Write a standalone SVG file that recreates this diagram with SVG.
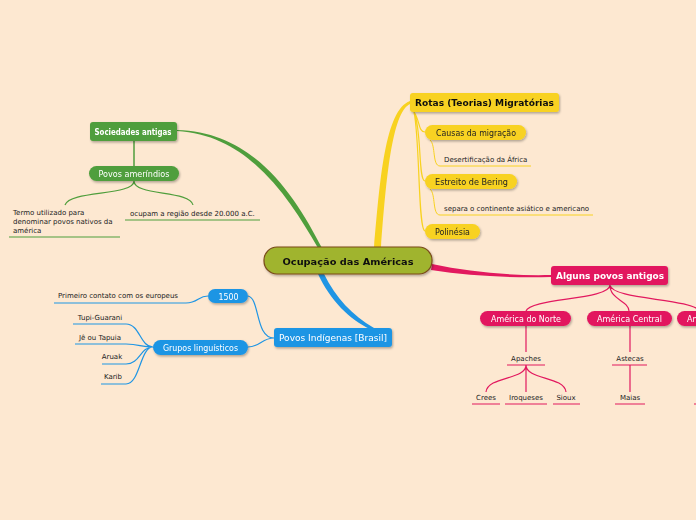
<svg xmlns="http://www.w3.org/2000/svg" width="696" height="520" viewBox="0 0 696 520">
<defs>
<filter id="sh" x="-10%" y="-20%" width="130%" height="160%"><feDropShadow dx="1" dy="1.5" stdDeviation="1" flood-color="#000" flood-opacity="0.3"/></filter>
<style>
text{font-family:"DejaVu Sans","Noto Sans",sans-serif}
.nt{font-size:8px;fill:#fff;text-anchor:middle}
.nd{font-size:8px;fill:#222;text-anchor:middle}
.ntb{font-size:9px;font-weight:bold;text-anchor:middle}
.lf{font-size:7px;fill:#222}
.lfm{font-size:7px;fill:#222;text-anchor:middle}
.g{stroke:#4f9e3c;fill:none}
.y{stroke:#f8d220;fill:none}
.p{stroke:#e2195f;fill:none}
.b{stroke:#1f95e4;fill:none}
</style>
</defs>
<rect width="696" height="520" fill="#fde8d1"/>
<g id="connectors">
<path d="M177 131 C250 135 290 200 318 248 L322 248 C295 196 255 132 177 130 Z" fill="#4f9e3c"/>
<path class="g" stroke-width="1.5" d="M134 141 V166"/>
<path class="g" stroke-width="1.2" d="M134 181 C134 196 70 190 65 205 M134 181 C134 196 190 190 193 205"/>
<path class="g" stroke-width="1.2" d="M9 237 H120 M125 220 H260"/>
<path d="M374 248 C380 180 385 110 410 101 L410 104 C392 112 386 180 381 248 Z" fill="#f8d220"/>
<path class="y" stroke-width="1.2" d="M414 112 C420 120 418 132 425 132 M414 112 C422 130 418 181 425 181 M414 112 C420 140 418 231 425 231"/>
<path class="y" stroke-width="1" d="M430 140 C436 145 432 166 440 166 H531 M430 189 C436 194 432 215 440 215 H593"/>
<path d="M432 264 C470 272 510 276 551 275 L551 277 C510 278 470 276 431 270 Z" fill="#e2195f"/>
<path class="p" stroke-width="1.2" d="M610 285 C610 300 530 298 526 311 M610 285 C610 300 628 300 629 311 M610 285 C612 300 690 298 700 311"/>
<path class="p" stroke-width="1.2" d="M526 326 V352 M507 365 H545 M526 365 C526 380 488 376 486 392 M526 365 V392 M526 365 C526 380 564 376 566 392 M472 404 H500 M505 404 H547 M553 404 H580"/>
<path class="p" stroke-width="1.2" d="M630 326 V352 M612 365 H647 M630 365 V392 M615 404 H645 M694 404 H696"/>
<path d="M318 274 C330 300 350 320 370 329 L374 328 C352 315 336 298 324 274 Z" fill="#1f95e4"/>
<path class="b" stroke-width="1.2" d="M274 338 C255 338 260 298 248 296 M274 338 C262 338 260 347 248 347"/>
<path class="b" stroke-width="1.2" d="M54 303 H186 C198 303 198 296 208 296"/>
<path class="b" stroke-width="1.2" d="M73 324 H126 C140 324 140 347 153 347 M75 344 H126 C140 344 140 347 153 347 M102 364 H126 C140 364 140 347 153 347 M101 384 H126 C140 384 140 347 153 347"/>
</g>
<g id="central" filter="url(#sh)"><rect x="264" y="247" width="168" height="27" rx="13" fill="#a0b42e" stroke="#7a4a1a" stroke-width="1.2"/><text x="348" y="265" class="ntb" font-size="10.5" fill="#111" textLength="131" lengthAdjust="spacingAndGlyphs">Ocupação das Américas</text></g>
<g id="sociedades" filter="url(#sh)"><rect x="90" y="122" width="87" height="19" rx="3" fill="#4f9e3c"/><text x="133" y="135" class="ntb" style="fill:#fff" font-size="8.5" textLength="77" lengthAdjust="spacingAndGlyphs">Sociedades antigas</text></g>
<g id="amerindios" filter="url(#sh)"><rect x="89" y="166" width="90" height="15" rx="7.5" fill="#4f9e3c"/><text x="134" y="177" class="nt" textLength="71" lengthAdjust="spacingAndGlyphs">Povos ameríndios</text></g>
<g id="termo"><text class="lf" x="13" y="215">Termo utilizado para</text><text class="lf" x="13" y="224">denominar povos nativos da</text><text class="lf" x="13" y="233">américa</text></g>
<g id="ocupam"><text class="lf" x="130" y="216">ocupam a região desde 20.000 a.C.</text></g>
<g id="rotas" filter="url(#sh)"><rect x="410" y="93" width="149" height="19" rx="3" fill="#f8d220"/><text x="484.5" y="106" class="ntb" fill="#111" textLength="139" lengthAdjust="spacingAndGlyphs">Rotas (Teorias) Migratórias</text></g>
<g id="causas" filter="url(#sh)"><rect x="425" y="125" width="101" height="15" rx="7.5" fill="#f8d220"/><text x="476" y="136" class="nd" textLength="80" lengthAdjust="spacingAndGlyphs">Causas da migração</text></g>
<g id="desert"><text class="lf" x="444" y="162">Desertificação da África</text></g>
<g id="bering" filter="url(#sh)"><rect x="425" y="174" width="92" height="15" rx="7.5" fill="#f8d220"/><text x="471.5" y="185" class="nd" textLength="73" lengthAdjust="spacingAndGlyphs">Estreito de Bering</text></g>
<g id="separa"><text class="lf" x="444" y="211">separa o continente asiático e americano</text></g>
<g id="polinesia" filter="url(#sh)"><rect x="425" y="224" width="55" height="15" rx="7.5" fill="#f8d220"/><text x="452.5" y="235" class="nd" textLength="35" lengthAdjust="spacingAndGlyphs">Polinésia</text></g>
<g id="alguns" filter="url(#sh)"><rect x="551" y="266" width="117" height="19" rx="3" fill="#e2195f"/><text x="610" y="279" class="ntb" style="fill:#fff" textLength="108" lengthAdjust="spacingAndGlyphs">Alguns povos antigos</text></g>
<g id="norte" filter="url(#sh)"><rect x="480" y="311" width="91" height="15" rx="7.5" fill="#e2195f"/><text x="526" y="322" class="nt" textLength="70" lengthAdjust="spacingAndGlyphs">América do Norte</text></g>
<g id="centralam" filter="url(#sh)"><rect x="587" y="311" width="85" height="15" rx="7.5" fill="#e2195f"/><text x="629.5" y="322" class="nt" textLength="65" lengthAdjust="spacingAndGlyphs">América Central</text></g>
<g id="sul" filter="url(#sh)"><rect x="677" y="311" width="60" height="15" rx="7.5" fill="#e2195f"/><text x="687" y="322" class="nt" style="text-anchor:start">Am</text></g>
<g id="apaches"><text class="lfm" x="526" y="361">Apaches</text></g>
<g id="crees"><text class="lfm" x="486" y="400">Crees</text></g>
<g id="iroqueses"><text class="lfm" x="526" y="400">Iroqueses</text></g>
<g id="sioux"><text class="lfm" x="566" y="400">Sioux</text></g>
<g id="astecas"><text class="lfm" x="630" y="361">Astecas</text></g>
<g id="maias"><text class="lfm" x="630" y="400">Maias</text></g>
<g id="brasil" filter="url(#sh)"><rect x="274" y="328" width="118" height="19" rx="3" fill="#1f95e4"/><text x="333" y="341" class="nt" font-size="9" style="font-size:9px" textLength="108" lengthAdjust="spacingAndGlyphs">Povos Indígenas [Brasil]</text></g>
<g id="n1500" filter="url(#sh)"><rect x="208" y="289" width="40" height="14" rx="7" fill="#1f95e4"/><text x="228.5" y="299.5" class="nt" textLength="20" lengthAdjust="spacingAndGlyphs">1500</text></g>
<g id="grupos" filter="url(#sh)"><rect x="153" y="340" width="95" height="15" rx="7.5" fill="#1f95e4"/><text x="200.5" y="351" class="nt" textLength="75" lengthAdjust="spacingAndGlyphs">Grupos linguísticos</text></g>
<g id="primeiro"><text class="lf" x="58" y="298">Primeiro contato com os europeus</text></g>
<g id="tupi"><text class="lfm" x="100" y="320">Tupi-Guarani</text></g>
<g id="je"><text class="lfm" x="100" y="340">Jê ou Tapuia</text></g>
<g id="aruak"><text class="lfm" x="112" y="359">Aruak</text></g>
<g id="karib"><text class="lfm" x="113" y="379">Karib</text></g>
</svg>
